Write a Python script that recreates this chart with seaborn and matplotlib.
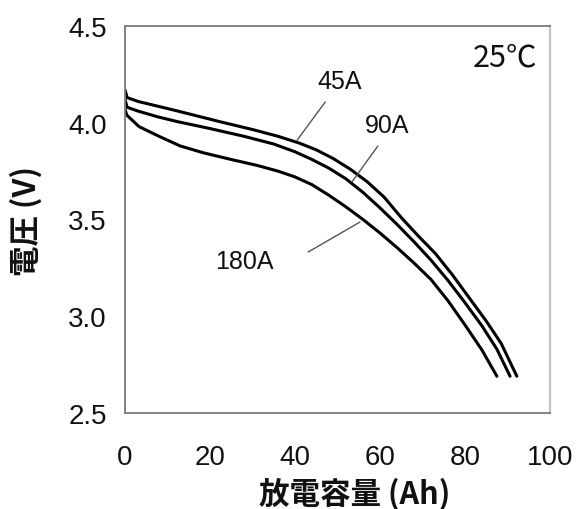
import matplotlib
matplotlib.use("Agg")
import matplotlib.pyplot as plt
from matplotlib.ticker import MultipleLocator
import pandas as pd
import seaborn as sns

# Discharge curves at 25 °C for three discharge currents
cap_45a = [0, 0.5, 3.1, 7.8, 12.5, 22.4, 30, 36, 41, 45, 49, 53, 57, 61, 65,
           69, 73, 77, 81, 85, 88.5, 92.2]
volt_45a = [4.17, 4.13, 4.11, 4.085, 4.06, 4.005, 3.965, 3.93, 3.895, 3.86, 3.815,
            3.76, 3.695, 3.615, 3.51, 3.415, 3.325, 3.215, 3.095, 2.975, 2.86, 2.69]

cap_90a = [0, 0.5, 3.1, 7.8, 12.5, 20, 28, 35, 40, 44, 48, 52, 56, 60, 64,
           68, 72, 76, 80, 84, 87.5, 90.6]
volt_90a = [4.12, 4.08, 4.06, 4.03, 4.005, 3.97, 3.93, 3.89, 3.85, 3.81, 3.765,
            3.71, 3.64, 3.56, 3.475, 3.385, 3.29, 3.185, 3.07, 2.95, 2.83, 2.69]

cap_180a = [0, 0.4, 3.3, 8, 13, 18.4, 25, 31, 36, 40, 44, 48, 52, 56, 60, 64,
            68, 72, 76, 80, 84, 87.5]
volt_180a = [4.07, 4.04, 3.98, 3.93, 3.88, 3.845, 3.81, 3.78, 3.75, 3.72, 3.68,
             3.625, 3.565, 3.50, 3.43, 3.355, 3.275, 3.19, 3.08, 2.955, 2.825, 2.69]

currents = ["45A", "90A", "180A"]
x_ticks = [0, 20, 40, 60, 80, 100]
y_ticks = [2.5, 3.0, 3.5, 4.0, 4.5]

frames = []
for name, cap, volt in zip(currents, [cap_45a, cap_90a, cap_180a],
                           [volt_45a, volt_90a, volt_180a]):
    frames.append(pd.DataFrame({"capacity": cap, "voltage": volt, "current": name}))
df = pd.concat(frames, ignore_index=True)

sns.set_theme(style="white")
plt.rcParams["font.family"] = ["Liberation Sans Narrow", "Liberation Sans", "DejaVu Sans"]

fig = plt.figure(figsize=(5.79, 5.10), dpi=100)
ax = fig.add_axes([125 / 579, 96 / 510, 425 / 579, 387 / 510])

sns.lineplot(data=df, x="capacity", y="voltage", hue="current",
             palette={c: "black" for c in currents}, legend=False,
             sort=False, estimator=None, linewidth=2.2, ax=ax)
for line in ax.get_lines():
    line.set_solid_joinstyle("round")

ax.set_xlim(0, 100)
ax.set_ylim(2.5, 4.5)
ax.set_xticks(x_ticks)
ax.set_yticks(y_ticks)
ax.xaxis.set_minor_locator(MultipleLocator(10))
ax.set_xticklabels([str(v) for v in x_ticks])
ax.set_yticklabels([f"{v:.1f}" for v in y_ticks])

ax.tick_params(axis="both", which="both", direction="in", length=4, width=1,
               color="#808080", labelcolor="#111111", labelsize=20)
ax.tick_params(axis="x", which="major", pad=22)
ax.tick_params(axis="y", which="major", pad=13)

for side in ["left", "bottom", "top"]:
    ax.spines[side].set_color("#7a7a7a")
    ax.spines[side].set_linewidth(1.3)
ax.spines["right"].set_color("#c4c4c4")
ax.spines["right"].set_linewidth(1.6)

cjk = ["Noto Sans CJK JP", "DejaVu Sans"]
ax.set_xlabel("放電容量 (Ah)", family=cjk, fontsize=22, fontweight="bold", color="#111111")
ax.set_ylabel("電圧 (V)", family=cjk, fontsize=22, fontweight="bold", color="#111111")
ax.xaxis.set_label_coords(0.54, -0.166)
ax.yaxis.set_label_coords(-0.193, 0.5)

# Curve labels with leader lines
leader = dict(arrowstyle="-", color="#555555", lw=1.0, shrinkA=0, shrinkB=0)
ax.annotate("", xy=(40.5, 3.91), xytext=(47.1, 4.107), arrowprops=leader)
ax.annotate("", xy=(53.4, 3.694), xytext=(59.5, 3.88), arrowprops=leader)
ax.annotate("", xy=(55.3, 3.487), xytext=(43.1, 3.332), arrowprops=leader)

ax.text(50.6, 4.216, "45A", fontsize=18, ha="center", va="center", color="#111111")
ax.text(61.6, 3.988, "90A", fontsize=18, ha="center", va="center", color="#111111")
ax.text(28.2, 3.285, "180A", fontsize=18, ha="center", va="center", color="#111111")
ax.text(89.4, 4.34, "25℃", fontsize=22, ha="center", va="center", color="#111111",
        family=["Noto Sans CJK JP", "DejaVu Sans"])

fig.savefig("out.png", dpi=100)
